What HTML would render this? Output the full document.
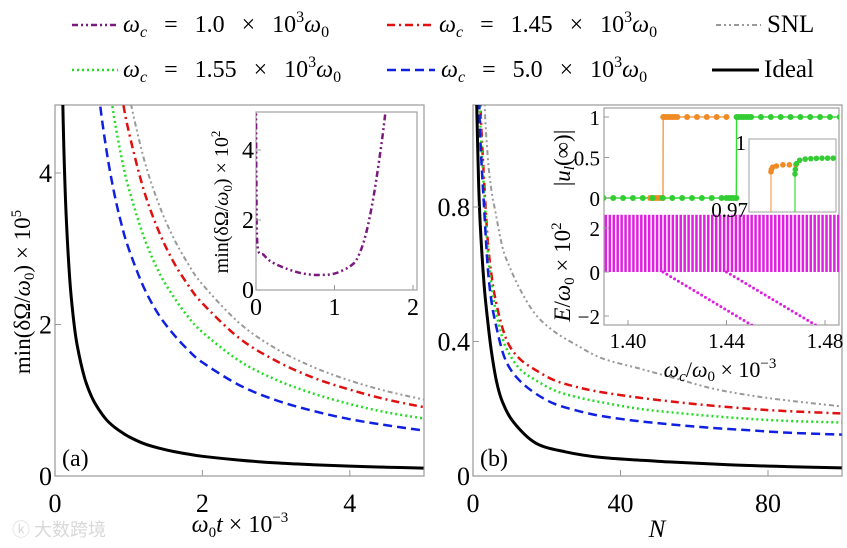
<!DOCTYPE html>
<html><head><meta charset="utf-8">
<style>
html,body{margin:0;padding:0;background:#fff;}
svg{display:block;font-family:"Liberation Serif","Noto Serif CJK SC",serif;}
</style></head>
<body>
<svg id="fig" width="847" height="548" viewBox="0 0 847 548" xmlns="http://www.w3.org/2000/svg">
<defs>
<clipPath id="clipA"><rect x="55" y="105" width="369" height="371"/></clipPath>
<clipPath id="clipB"><rect x="473" y="105" width="369" height="371"/></clipPath>
<clipPath id="clipIA"><rect x="256" y="112" width="161" height="178"/></clipPath>
<clipPath id="clipIBU"><rect x="604" y="108" width="235" height="106"/></clipPath>
<clipPath id="clipIBL"><rect x="604" y="214" width="235" height="111"/></clipPath>
<clipPath id="clipIN"><rect x="749" y="139" width="87" height="73"/></clipPath>
</defs>

<g font-size="24" word-spacing="11">
 <g>
  <line x1="72" y1="25" x2="116" y2="25" stroke="#7a1a7e" stroke-width="2.5" stroke-dasharray="6,3,2,3,2,3"/>
  <text x="123" y="32"><tspan font-style="italic">ω</tspan><tspan font-size="16" dy="5" font-style="italic">c</tspan><tspan dy="-5"> = 1.0 × 10</tspan><tspan font-size="16" dy="-10">3</tspan><tspan dy="10" font-style="italic">ω</tspan><tspan font-size="16" dy="5">0</tspan></text>
 </g>
 <g>
  <line x1="387" y1="25" x2="434" y2="25" stroke="#e01010" stroke-width="2.5" stroke-dasharray="8,4,2,4"/>
  <text x="439" y="32"><tspan font-style="italic">ω</tspan><tspan font-size="16" dy="5" font-style="italic">c</tspan><tspan dy="-5"> = 1.45 × 10</tspan><tspan font-size="16" dy="-10">3</tspan><tspan dy="10" font-style="italic">ω</tspan><tspan font-size="16" dy="5">0</tspan></text>
 </g>
 <g>
  <line x1="716" y1="25" x2="761" y2="25" stroke="#999" stroke-width="2" stroke-dasharray="5,3,2,3,2,3"/>
  <text x="767" y="32" font-size="25">SNL</text>
 </g>
 <g>
  <line x1="72" y1="70" x2="118" y2="70" stroke="#22dd22" stroke-width="2.5" stroke-dasharray="2,3"/>
  <text x="123" y="77"><tspan font-style="italic">ω</tspan><tspan font-size="16" dy="5" font-style="italic">c</tspan><tspan dy="-5"> = 1.55 × 10</tspan><tspan font-size="16" dy="-10">3</tspan><tspan dy="10" font-style="italic">ω</tspan><tspan font-size="16" dy="5">0</tspan></text>
 </g>
 <g>
  <line x1="387" y1="70" x2="435" y2="70" stroke="#1020e0" stroke-width="2.5" stroke-dasharray="9,5"/>
  <text x="441" y="77"><tspan font-style="italic">ω</tspan><tspan font-size="16" dy="5" font-style="italic">c</tspan><tspan dy="-5"> = 5.0 × 10</tspan><tspan font-size="16" dy="-10">3</tspan><tspan dy="10" font-style="italic">ω</tspan><tspan font-size="16" dy="5">0</tspan></text>
 </g>
 <g>
  <line x1="712" y1="70" x2="759" y2="70" stroke="#000" stroke-width="3"/>
  <text x="764" y="77" font-size="25">Ideal</text>
 </g>
</g>

<g>
 <rect x="55" y="105" width="369" height="371" fill="none" stroke="#a0a0a0" stroke-width="1.3"/>
 <g id="seriesA" clip-path="url(#clipA)"></g>
 <g id="ticksA" font-size="26"></g>
 <text x="62" y="466" font-size="24">(a)</text>
 <text transform="translate(30,292) rotate(-90)" text-anchor="middle" font-size="23">min(δΩ/<tspan font-style="italic">ω</tspan><tspan font-size="15" dy="4">0</tspan><tspan dy="-4">) × 10</tspan><tspan font-size="15" dy="-9">5</tspan></text>
 <text x="240" y="532" text-anchor="middle" font-size="24"><tspan font-style="italic">ω</tspan><tspan font-size="15" dy="5">0</tspan><tspan dy="-5" font-style="italic">t</tspan> × 10<tspan font-size="15" dy="-10">−3</tspan></text>
</g>

<g>
 <rect x="256" y="112" width="161" height="178" fill="#fff" stroke="#a0a0a0" stroke-width="1.2"/>
 <g id="seriesIA" clip-path="url(#clipIA)"></g>
 <g id="ticksIA" font-size="24"></g>
 <text transform="translate(228,202) rotate(-90)" text-anchor="middle" font-size="20">min(δΩ/<tspan font-style="italic">ω</tspan><tspan font-size="13" dy="4">0</tspan><tspan dy="-4">) × 10</tspan><tspan font-size="13" dy="-8">2</tspan></text>
</g>

<g>
 <rect x="473" y="105" width="369" height="371" fill="none" stroke="#a0a0a0" stroke-width="1.3"/>
 <g id="seriesB" clip-path="url(#clipB)"></g>
 <g id="ticksB" font-size="26"></g>
 <text x="480" y="466" font-size="24">(b)</text>
 <text x="657" y="537" text-anchor="middle" font-size="25" font-style="italic">N</text>
</g>

<g>
 <rect x="604" y="108" width="235" height="217" fill="#fff" stroke="#a0a0a0" stroke-width="1.2"/>
 <g id="seriesIBL" clip-path="url(#clipIBL)"></g>
 <g id="seriesIBU" clip-path="url(#clipIBU)"></g>
 <rect x="749" y="139" width="87" height="73" fill="#fff" stroke="#a0a0a0" stroke-width="1"/>
 <g id="seriesIN" clip-path="url(#clipIN)"></g>
 <g id="ticksIB" font-size="21"></g>
 <text transform="translate(570,158) rotate(-90)" text-anchor="middle" font-size="23">|<tspan font-style="italic">u</tspan><tspan font-size="15" dy="4" font-style="italic">l</tspan><tspan dy="-4">(∞)|</tspan></text>
 <text transform="translate(570,272) rotate(-90)" text-anchor="middle" font-size="23"><tspan font-style="italic">E</tspan>/<tspan font-style="italic">ω</tspan><tspan font-size="15" dy="4">0</tspan><tspan dy="-4"> × 10</tspan><tspan font-size="15" dy="-9">2</tspan></text>
 <text x="720" y="377" text-anchor="middle" font-size="22"><tspan font-style="italic">ω</tspan><tspan font-size="15" dy="4" font-style="italic">c</tspan><tspan dy="-4">/</tspan><tspan font-style="italic">ω</tspan><tspan font-size="15" dy="4">0</tspan><tspan dy="-4"> × 10</tspan><tspan font-size="15" dy="-9">−3</tspan></text>
</g>

<text x="12" y="536" font-size="18" fill="#d8d8d8" font-family="'Noto Sans CJK SC',sans-serif">ⓚ 大数跨境</text>
</svg>

<script>
// ---------- Panel (a) data ----------
const xA = [0.1,0.12,0.15,0.2,0.25,0.3,0.4,0.5,0.6,0.7,0.8,0.9,1,1.2,1.4,1.6,1.8,2,2.5,3,3.5,4,4.5,5];
const idealA = [5.2,4.33,3.47,2.6,2.08,1.73,1.3,1.04,0.87,0.74,0.65,0.58,0.52,0.43,0.37,0.325,0.29,0.26,0.21,0.173,0.149,0.13,0.116,0.104];
const blueA  = [30,25,20,15,12,10,7.5,6,5,4.29,3.75,3.33,3,2.5,2.14,1.88,1.67,1.5,1.2,1,0.86,0.75,0.67,0.6];
const greenA = [38,31.7,25.3,19,15.2,12.7,9.5,7.6,6.33,5.43,4.75,4.22,3.8,3.17,2.71,2.38,2.11,1.9,1.52,1.27,1.09,0.95,0.84,0.76];
const redA   = [45.5,37.9,30.3,22.8,18.2,15.2,11.4,9.1,7.58,6.5,5.69,5.06,4.55,3.79,3.25,2.84,2.53,2.28,1.82,1.52,1.3,1.14,1.01,0.91];
const grayA  = [50.5,42.1,33.7,25.3,20.2,16.8,12.6,10.1,8.42,7.21,6.31,5.61,5.05,4.21,3.61,3.16,2.81,2.53,2.02,1.68,1.44,1.26,1.12,1.01];
const xTicksA = [0,2,4];
const yTicksA = [0,2,4];
// ---------- Inset (a) ----------
const xIA = [0,0.005,0.02,0.1,0.2,0.4,0.6,0.8,1.0,1.2,1.3,1.4,1.5,1.6,1.65,1.7];
const yIA = [5.3,3.0,1.25,1.0,0.8,0.6,0.47,0.43,0.47,0.68,0.95,1.6,2.7,4.2,5.1,6.0];
const xTicksIA = [0,1,2];
const yTicksIA = [0,2,4];
// ---------- Panel (b) ----------
const nIdeal = [1,1.5,2,3,4,5,6.4,8,11,17,25,35,53,70,85,100];
const idealB = [1.11,0.88,0.74,0.57,0.46,0.37,0.28,0.22,0.16,0.098,0.072,0.055,0.042,0.033,0.028,0.024];
const nB = [1.5,2,3,4,5,6,8,10,13,17,22,28,35,45,55,65,75,85,100];
const blueB  = [1.2,1.0,0.8,0.62,0.52,0.46,0.37,0.32,0.28,0.245,0.215,0.195,0.178,0.163,0.152,0.143,0.136,0.129,0.123];
const greenB = [1.25,1.05,0.85,0.67,0.57,0.5,0.41,0.36,0.315,0.285,0.255,0.235,0.219,0.2,0.188,0.178,0.17,0.164,0.159];
const redB   = [1.3,1.1,0.88,0.70,0.60,0.53,0.44,0.385,0.345,0.315,0.285,0.265,0.249,0.233,0.22,0.209,0.2,0.193,0.186];
const grayB  = [2.2,1.6,1.15,0.95,0.85,0.79,0.68,0.62,0.55,0.48,0.43,0.39,0.35,0.32,0.29,0.26,0.24,0.225,0.207];
const xTicksB = [0,40,80];
const yTicksB = [0,0.4,0.8];
// ---------- Inset (b) ----------
const orangeX = [1.409,1.410,1.411,1.412,1.413,1.4142,1.4143,1.415,1.416,1.417,1.418,1.419,1.420,1.424,1.428,1.432,1.436,1.440];
const orangeY = [0,0,0,0,0,0,1,1,1,1,1,1,1,1,1,1,1,1];
const greenX = [1.390,1.394,1.398,1.402,1.406,1.410,1.414,1.418,1.422,1.426,1.430,1.434,1.438,1.440,1.441,1.442,1.443,1.4440,1.4441,1.445,1.446,1.447,1.448,1.449,1.450,1.454,1.458,1.462,1.466,1.470,1.474,1.478,1.482,1.486];
const greenY = [0,0,0,0,0,0,0,0,0,0,0,0,0,0,0,0,0,0,1,1,1,1,1,1,1,1,1,1,1,1,1,1,1,1];
const bandTop = 2.6;
const diag1X = [1.4142,1.4530];
const diag1Y = [0,-2.6];
const diag2X = [1.4400,1.4790];
const diag2Y = [0,-2.6];
const innerOrangeX = [1.4142,1.4142,1.4146,1.4160,1.4200,1.4270,1.4340,1.4410];
const innerOrangeY = [0.960,0.9875,0.9885,0.9895,0.9900,0.9905,0.9905,0.9905];
const innerGreenX = [1.4400,1.4400,1.4404,1.4415,1.4450,1.4510,1.4570,1.4630,1.4690,1.4750,1.4810];
const innerGreenY = [0.960,0.9865,0.9885,0.9910,0.9925,0.9930,0.9932,0.9933,0.9934,0.9934,0.9934];
const xTicksIB = [1.40,1.44,1.48];
const yTicksUpper = [0,0.5,1];
const yTicksLower = [-2,0,2];

const NS = 'http://www.w3.org/2000/svg';
function lin(d0,d1,r0,r1){ return v => r0 + (v-d0)*(r1-r0)/(d1-d0); }
function mk(tag, parent){ const e=document.createElementNS(NS,tag); parent.appendChild(e); return e; }
function smoothPath(xs, ys, sx, sy){
  const p = xs.map((x,i)=>[sx(x), sy(ys[i])]);
  let d = 'M'+p[0][0].toFixed(2)+','+p[0][1].toFixed(2);
  for(let i=0;i<p.length-1;i++){
    const p0=p[Math.max(0,i-1)], p1=p[i], p2=p[i+1], p3=p[Math.min(p.length-1,i+2)];
    const c1=[p1[0]+(p2[0]-p0[0])/6, p1[1]+(p2[1]-p0[1])/6];
    const c2=[p2[0]-(p3[0]-p1[0])/6, p2[1]-(p3[1]-p1[1])/6];
    d += ' C'+c1[0].toFixed(2)+','+c1[1].toFixed(2)+' '+c2[0].toFixed(2)+','+c2[1].toFixed(2)+' '+p2[0].toFixed(2)+','+p2[1].toFixed(2);
  }
  return d;
}
function linePath(xs, ys, sx, sy){
  return xs.map((x,i)=>(i?'L':'M')+sx(x).toFixed(2)+','+sy(ys[i]).toFixed(2)).join(' ');
}
function drawCurve(g, name, d, color, w, dash){
  const e = mk('path', g);
  
  
  e.setAttribute('d', d);
  e.setAttribute('fill','none');
  e.setAttribute('stroke', color);
  e.setAttribute('stroke-width', w);
  if(dash) e.setAttribute('stroke-dasharray', dash);
  return e;
}
function tickLabel(g, name, x, y, txt, anchor){
  const t = mk('text', g);
  
  
  t.setAttribute('x', x); t.setAttribute('y', y);
  t.setAttribute('text-anchor', anchor);
  t.textContent = txt;
}
function tickMark(g, x1,y1,x2,y2){
  const l = mk('line', g);
  
  
  l.setAttribute('x1',x1); l.setAttribute('y1',y1); l.setAttribute('x2',x2); l.setAttribute('y2',y2);
  l.setAttribute('stroke','#999'); l.setAttribute('stroke-width','1');
}
const fmt = v => String(v).replace('-', '−');

// Panel a
const sxA = lin(0,5,55,423.5), syA = lin(0,4,476,173);
const gA = document.getElementById('seriesA');
drawCurve(gA,'snl-curve-a',smoothPath(xA,grayA,sxA,syA),'#999',2,'5,3,2,3,2,3');
drawCurve(gA,'wc-1.45-curve-a',smoothPath(xA,redA,sxA,syA),'#e01010',2.5,'8,4,2,4');
drawCurve(gA,'wc-1.55-curve-a',smoothPath(xA,greenA,sxA,syA),'#22dd22',2.5,'2,3');
drawCurve(gA,'wc-5.0-curve-a',smoothPath(xA,blueA,sxA,syA),'#1020e0',2.5,'9,5');
drawCurve(gA,'ideal-curve-a',smoothPath(xA,idealA,sxA,syA),'#000',3,null);
const tA = document.getElementById('ticksA');
xTicksA.forEach(v=>{ tickMark(tA,sxA(v),476,sxA(v),470); tickLabel(tA,'x-tick-label-a',sxA(v),512,fmt(v),'middle'); });
yTicksA.forEach(v=>{ tickMark(tA,55,syA(v),61,syA(v)); tickLabel(tA,'y-tick-label-a',52,syA(v)+9,fmt(v),'end'); });

// Inset a
const sxIA = lin(0,2,256,413), syIA = lin(0,4,290,150);
const gIA = document.getElementById('seriesIA');
drawCurve(gIA,'wc-1.0-curve-inset',smoothPath(xIA,yIA,sxIA,syIA),'#7a1a7e',2.5,'6,3,2,3,2,3');
const tIA = document.getElementById('ticksIA');
xTicksIA.forEach(v=>{ tickMark(tIA,sxIA(v),290,sxIA(v),285); tickLabel(tIA,'x-tick-label-inset-a',sxIA(v),315,fmt(v),'middle'); });
yTicksIA.forEach(v=>{ tickMark(tIA,256,syIA(v),261,syIA(v)); tickLabel(tIA,'y-tick-label-inset-a',254,syIA(v)+8,fmt(v),'end'); });

// Panel b
const sxB = lin(0,80,473,768), syB = lin(0,0.8,476,207);
const gB = document.getElementById('seriesB');
drawCurve(gB,'snl-curve-b',smoothPath(nB,grayB,sxB,syB),'#999',2,'5,3,2,3,2,3');
drawCurve(gB,'wc-1.45-curve-b',smoothPath(nB,redB,sxB,syB),'#e01010',2.5,'8,4,2,4');
drawCurve(gB,'wc-1.55-curve-b',smoothPath(nB,greenB,sxB,syB),'#22dd22',2.5,'2,3');
drawCurve(gB,'wc-5.0-curve-b',smoothPath(nB,blueB,sxB,syB),'#1020e0',2.5,'9,5');
drawCurve(gB,'ideal-curve-b',smoothPath(nIdeal,idealB,sxB,syB),'#000',3,null);
const tB = document.getElementById('ticksB');
xTicksB.forEach(v=>{ tickMark(tB,sxB(v),476,sxB(v),470); tickLabel(tB,'x-tick-label-b',sxB(v),512,fmt(v),'middle'); });
yTicksB.forEach(v=>{ tickMark(tB,473,syB(v),479,syB(v)); tickLabel(tB,'y-tick-label-b',470,syB(v)+9,fmt(v),'end'); });

// Inset b
const sxIB = lin(1.40,1.48,628,825);
const syU = lin(0,1,198,117);
const syL = lin(0,2,272,228);
const gL = document.getElementById('seriesIBL');
for(let x=1.3905; x<1.486; x+=0.0016){
  const r = mk('rect', gL);
  
  
  r.setAttribute('x', sxIB(x).toFixed(2));
  r.setAttribute('y', syL(bandTop).toFixed(2));
  r.setAttribute('width', '2.5');
  r.setAttribute('height', (syL(0)-syL(bandTop)).toFixed(2));
  r.setAttribute('fill', '#e020e0');
}
drawCurve(gL,'edge-state-energy-1',linePath(diag1X,diag1Y,sxIB,syL),'#e020e0',3,'0,4.5').setAttribute('stroke-linecap','round');
drawCurve(gL,'edge-state-energy-2',linePath(diag2X,diag2Y,sxIB,syL),'#e020e0',3,'0,4.5').setAttribute('stroke-linecap','round');

const gU = document.getElementById('seriesIBU');
function dots(g, name, xs, ys, sx, sy, color, r){
  xs.forEach((x,i)=>{
    const c = mk('circle', g);
    
    
    c.setAttribute('cx', sx(x).toFixed(2)); c.setAttribute('cy', sy(ys[i]).toFixed(2));
    c.setAttribute('r', r); c.setAttribute('fill', color);
  });
}
drawCurve(gU,'orange-ul-line',linePath(orangeX,orangeY,sxIB,syU),'#f5a050',1.5,null);
drawCurve(gU,'green-ul-line',linePath(greenX,greenY,sxIB,syU),'#33dd33',1.5,null);
dots(gU,'orange-ul-point',orangeX,orangeY,sxIB,syU,'#f08a24',3);
dots(gU,'green-ul-point',greenX,greenY,sxIB,syU,'#33cc33',3);

// inner inset
const sxIN = lin(1.4142,1.4400,771,795), syIN = lin(0.97,1.0,212,143);
const gN = document.getElementById('seriesIN');
drawCurve(gN,'inner-orange-line',linePath(innerOrangeX.slice(0,2),innerOrangeY.slice(0,2),sxIN,syIN),'#f5a050',1.2,null);
drawCurve(gN,'inner-green-line',linePath(innerGreenX.slice(0,2),innerGreenY.slice(0,2),sxIN,syIN),'#33dd33',1.2,null);
dots(gN,'inner-orange-point',innerOrangeX.slice(1),innerOrangeY.slice(1),sxIN,syIN,'#f08a24',2.8);
dots(gN,'inner-green-point',innerGreenX.slice(1),innerGreenY.slice(1),sxIN,syIN,'#33cc33',2.8);

const tIB = document.getElementById('ticksIB');
xTicksIB.forEach(v=>{ tickMark(tIB,sxIB(v),325,sxIB(v),320); tickLabel(tIB,'x-tick-label-inset-b',sxIB(v),348,v.toFixed(2),'middle'); });
yTicksUpper.forEach(v=>{ tickMark(tIB,604,syU(v),609,syU(v)); tickLabel(tIB,'y-tick-label-inset-b-upper',600,syU(v)+8,fmt(v),'end'); });
yTicksLower.forEach(v=>{ tickMark(tIB,604,syL(v),609,syL(v)); tickLabel(tIB,'y-tick-label-inset-b-lower',600,syL(v)+8,fmt(v),'end'); });
tickLabel(tIB,'inner-inset-y-top-label',746,150,'1','end');
tickLabel(tIB,'inner-inset-y-bottom-label',748,217,'0.97','end');
</script>
</body></html>
